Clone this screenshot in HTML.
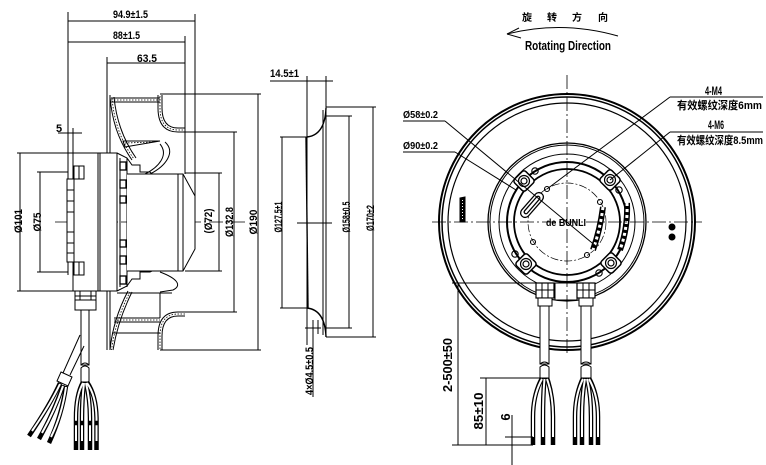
<!DOCTYPE html>
<html><head><meta charset="utf-8">
<style>
html,body{margin:0;padding:0;background:#fff;}
svg{display:block;}
text{font-family:"Liberation Sans","Noto Sans CJK SC",sans-serif;font-weight:bold;fill:#000;stroke:none;}
</style></head><body>
<svg width="766" height="465" viewBox="0 0 766 465" xmlns="http://www.w3.org/2000/svg">
<rect width="766" height="465" fill="#fff"/>
<g fill="none" stroke="#000" stroke-width="1">

<!-- ============ LEFT SIDE VIEW ============ -->
<line x1="68" y1="12" x2="68" y2="275"/>
<line x1="195" y1="14" x2="195" y2="198"/>
<line x1="68" y1="21" x2="195" y2="21"/>
<line x1="68" y1="42" x2="185" y2="42"/>
<line x1="185" y1="36" x2="185" y2="174"/>
<line x1="107" y1="63" x2="185" y2="63"/>
<line x1="107" y1="57" x2="107" y2="95"/>
<line x1="58" y1="133" x2="82" y2="133"/>
<line x1="73" y1="128" x2="73" y2="153"/>
<line x1="20" y1="153" x2="20" y2="291"/>
<line x1="17" y1="153" x2="73" y2="153"/>
<line x1="17" y1="291" x2="73" y2="291"/>
<line x1="40" y1="172" x2="40" y2="272"/>
<line x1="37" y1="172" x2="68" y2="172"/>
<line x1="37" y1="272" x2="68" y2="272"/>
<line x1="219" y1="173" x2="219" y2="271"/>
<line x1="185" y1="173" x2="222" y2="173"/>
<line x1="185" y1="271" x2="222" y2="271"/>
<line x1="234" y1="132" x2="234" y2="312"/>
<line x1="185" y1="132" x2="237" y2="132"/>
<line x1="185" y1="312" x2="237" y2="312"/>
<line x1="258" y1="94" x2="258" y2="350"/>
<line x1="160" y1="94" x2="261" y2="94"/>
<line x1="160" y1="350" x2="261" y2="350"/>
<line x1="55" y1="222" x2="245" y2="222" stroke-width="0.7" stroke-dasharray="14 3 2 3"/>

<rect x="73" y="153" width="44" height="138" fill="#fff"/>
<line x1="98" y1="153" x2="98" y2="291"/>
<line x1="100" y1="153" x2="100" y2="291"/>
<rect x="67" y="179" width="7" height="83" fill="#fff"/>
<line x1="67" y1="190" x2="74" y2="190"/><line x1="67" y1="201" x2="74" y2="201"/>
<line x1="67" y1="212" x2="74" y2="212"/><line x1="67" y1="232" x2="74" y2="232"/>
<line x1="67" y1="243" x2="74" y2="243"/><line x1="67" y1="253" x2="74" y2="253"/>
<rect x="74" y="166" width="10" height="13" fill="#fff"/>
<line x1="79" y1="166" x2="79" y2="179"/>
<rect x="74" y="262" width="10" height="13" fill="#fff"/>
<line x1="79" y1="262" x2="79" y2="275"/>
<line x1="120" y1="158" x2="120" y2="287"/>
<line x1="127" y1="158" x2="127" y2="287"/>
<rect x="120" y="162" width="6" height="8" stroke-width="1.3"/>
<rect x="120" y="180" width="6" height="8" stroke-width="1.3"/>
<rect x="120" y="196" width="6" height="7" stroke-width="1.3"/>
<rect x="120" y="240" width="6" height="7" stroke-width="1.3"/>
<rect x="120" y="256" width="6" height="8" stroke-width="1.3"/>
<rect x="120" y="276" width="6" height="8" stroke-width="1.3"/>
<path d="M127,174 H183 L195,196 V249 L183,271 H127" fill="#fff"/>
<line x1="178" y1="174" x2="178" y2="271"/>
<line x1="183" y1="174" x2="183" y2="271"/>
<path d="M117,153 L127,158 L132,165 L140,165 L140,172 L150,172 L152,174"/>
<path d="M117,291 L127,286 L132,279 L140,279 L140,272 L150,272 L152,271"/>

<line x1="107" y1="95" x2="107" y2="153"/>
<line x1="110" y1="95" x2="110" y2="153"/>
<path d="M110,97 C112,120 118,140 132,160"/>
<path d="M114,97 C116,118 122,138 136,158"/>
<path d="M112,98 C114,120 120,140 134,159" stroke-dasharray="1.5 1.5" stroke-width="0.8"/>
<line x1="111" y1="98" x2="160" y2="98"/>
<line x1="111" y1="102" x2="160" y2="102"/>
<line x1="111" y1="100" x2="160" y2="100" stroke-dasharray="1.5 1.5" stroke-width="0.8"/>
<path d="M158,95 V108 Q158,132 178,132 H185"/>
<path d="M162,95 V108 Q162,128 178,128 H185"/>
<path d="M160,96 V108 Q160,130 178,130 H185" stroke-dasharray="1.5 1.5" stroke-width="0.8"/>
<path d="M123,141 L160,141 L125,147 Z"/>
<line x1="125" y1="143" x2="155" y2="142" stroke-dasharray="1.5 1.5" stroke-width="0.8"/>
<path d="M165,142 C176,152 166,166 150,174"/>
<path d="M160,144 C169,155 159,167 145,174"/>

<line x1="107" y1="291" x2="107" y2="350"/>
<line x1="110" y1="291" x2="110" y2="350"/>
<path d="M128,291 C118,310 112,330 110,350"/>
<path d="M132,292 C122,312 116,332 113,350"/>
<path d="M130,292 C120,311 114,331 111.5,350" stroke-dasharray="1.5 1.5" stroke-width="0.8"/>
<line x1="114" y1="318" x2="160" y2="318"/>
<line x1="114" y1="322" x2="160" y2="322"/>
<line x1="114" y1="320" x2="160" y2="320" stroke-dasharray="1.5 1.5" stroke-width="0.8"/>
<line x1="112" y1="333" x2="160" y2="333"/>
<path d="M158,350 V336 Q158,312 178,312 H185"/>
<path d="M162,350 V336 Q162,316 178,316 H185"/>
<path d="M160,349 V336 Q160,314 178,314 H185" stroke-dasharray="1.5 1.5" stroke-width="0.8"/>
<path d="M160,272 C176,278 183,285 173,290 L160,292"/>
<line x1="117" y1="293" x2="172" y2="293"/>
<line x1="160" y1="293" x2="160" y2="318"/>

<rect x="75" y="291" width="21" height="19" fill="#fff"/>
<line x1="75" y1="296" x2="96" y2="296"/><line x1="75" y1="300" x2="96" y2="300"/>
<line x1="80" y1="291" x2="80" y2="300"/><line x1="91" y1="291" x2="91" y2="300"/>
<rect x="81" y="310" width="8" height="55" fill="#fff"/>
<path d="M81,368 q4,-4 8,0 V382 H81 Z" fill="#fff"/>
<path d="M81,365 q4,-4 8,0"/>
<g stroke-width="4.5" stroke-linecap="butt">
<path d="M83,382 Q76,395 76,418 V450"/>
<path d="M84,382 Q82,400 82,418 V450"/>
<path d="M86,382 Q90,400 90,418 V450"/>
<path d="M87,382 Q96,395 96.5,418 V450"/>
</g>
<g stroke="#fff" stroke-width="2">
<path d="M83,383 Q76,395 76,418 V441"/>
<path d="M84,383 Q82,400 82,418 V441"/>
<path d="M86,383 Q90,400 90,418 V441"/>
<path d="M87,383 Q96,395 96.5,418 V441"/>
</g>
<g stroke-width="4.5"><line x1="74" y1="423" x2="78" y2="423"/><line x1="80" y1="423" x2="84" y2="423"/><line x1="88" y1="423" x2="92" y2="423"/><line x1="94.5" y1="423" x2="98.5" y2="423"/></g>
<path d="M80,335 L63,373"/>
<path d="M84,346 L70,375"/>
<path d="M61,372 L72,377 L68,386 L57,381 Z" fill="#fff"/>
<g stroke-width="4.5">
<path d="M60,383 Q50,405 29,436"/>
<path d="M63,385 Q55,410 39,439"/>
<path d="M66,386 Q62,415 49,443"/>
</g>
<g stroke="#fff" stroke-width="2">
<path d="M60,384 Q50,405 32,431"/>
<path d="M63,386 Q55,410 42,433"/>
<path d="M66,387 Q62,415 51,437"/>
</g>

<!-- ============ MIDDLE PROFILE ============ -->
<line x1="270" y1="81" x2="333" y2="81"/>
<line x1="307" y1="76" x2="307" y2="345"/>
<line x1="326" y1="76" x2="326" y2="337"/>
<line x1="323" y1="110" x2="323" y2="335"/>
<path d="M307,137 Q325,135 326,108" stroke-width="1.4"/>
<path d="M307,308 Q325,310 326,337" stroke-width="1.4"/>
<line x1="306" y1="137" x2="308" y2="308" stroke-width="1.4"/>
<line x1="326" y1="337" x2="331" y2="337"/>
<line x1="282" y1="137" x2="282" y2="308"/>
<line x1="280" y1="137" x2="307" y2="137"/>
<line x1="280" y1="308" x2="307" y2="308"/>
<line x1="349" y1="116" x2="349" y2="328"/>
<line x1="326" y1="116" x2="352" y2="116"/>
<line x1="326" y1="328" x2="352" y2="328"/>
<line x1="373" y1="107" x2="373" y2="337"/>
<line x1="326" y1="107" x2="376" y2="107"/>
<line x1="326" y1="337" x2="376" y2="337"/>
<line x1="297" y1="223" x2="332" y2="223"/>
<line x1="313" y1="320" x2="313" y2="397"/>
<line x1="318" y1="320" x2="318" y2="334"/>
<line x1="305" y1="328" x2="321" y2="328"/>

<!-- ============ FRONT VIEW ============ -->
<circle cx="567" cy="222" r="128" stroke-width="2"/>
<circle cx="567" cy="222" r="125" stroke-width="1.5"/>
<circle cx="567" cy="222" r="119" stroke-width="1.2"/>
<circle cx="567" cy="222" r="79" stroke-width="1.3"/>
<circle cx="567" cy="222" r="77"/>
<circle cx="567" cy="222" r="68"/>
<circle cx="567" cy="222" r="60" stroke-width="2"/>
<circle cx="567" cy="222" r="53" stroke-width="1.8"/>
<circle cx="567" cy="222" r="39" stroke-width="0.7" stroke-dasharray="8 2 2 2"/>
<g fill="#fff" stroke-width="1.5">
<rect x="-8" y="-8" width="16" height="16" rx="3" transform="translate(524,181) rotate(45)"/>
<rect x="-8" y="-8" width="16" height="16" rx="3" transform="translate(610,180) rotate(45)"/>
<rect x="-8" y="-8" width="16" height="16" rx="3" transform="translate(526,264) rotate(45)"/>
<rect x="-8" y="-8" width="16" height="16" rx="3" transform="translate(611,263) rotate(45)"/>
</g>
<g stroke-width="1.2">
<circle cx="524" cy="181" r="5.5"/><circle cx="524" cy="181" r="3"/>
<circle cx="610" cy="180" r="5.5"/><circle cx="610" cy="180" r="3"/>
<circle cx="526" cy="264" r="5.5"/><circle cx="526" cy="264" r="3"/>
<circle cx="611" cy="263" r="5.5"/><circle cx="611" cy="263" r="3"/>
</g>
<g stroke-width="1.1">
<circle cx="535" cy="171" r="3.2"/><circle cx="619" cy="190" r="3.2"/>
<circle cx="515" cy="254" r="3.2"/><circle cx="599" cy="273" r="3.2"/>
<circle cx="547" cy="189" r="2.5"/><circle cx="600" cy="202" r="2.5"/>
<circle cx="533" cy="242" r="2.5"/><circle cx="587" cy="255" r="2.5"/>
</g>
<g transform="translate(532,205) rotate(-49)" stroke-width="1.3">
<rect x="-15" y="-4.5" width="30" height="9" rx="4.5" fill="#fff"/>
<rect x="-11" y="-1.8" width="22" height="3.6" rx="1.8"/>
</g>
<path d="M603,207 Q600,230 593,250" stroke-width="6"/>
<path d="M603,207 Q600,230 593,250" stroke="#fff" stroke-width="3" stroke-dasharray="3 3"/>
<path d="M627,203 Q628,228 620,250" stroke-width="6"/>
<path d="M627,203 Q628,228 620,250" stroke="#fff" stroke-width="3" stroke-dasharray="3 3"/>
<path d="M460,198 L465,197 L465,222 L460,222 Z" fill="#000" stroke-width="1"/>
<line x1="462.5" y1="200" x2="462.5" y2="220" stroke="#fff" stroke-width="1" stroke-dasharray="1 2"/>
<circle cx="672" cy="227" r="3.5" fill="#000" stroke="none"/>
<circle cx="672" cy="237" r="3.5" fill="#000" stroke="none"/>

<rect x="555" y="283" width="22" height="17" fill="#fff"/>
<rect x="536" y="283" width="18" height="15" fill="#fff" stroke-width="1.2"/>
<line x1="542" y1="283" x2="542" y2="298"/><line x1="548" y1="283" x2="548" y2="298"/>
<line x1="536" y1="290" x2="554" y2="290"/>
<rect x="538" y="298" width="14" height="8" fill="#fff"/>
<rect x="577" y="283" width="18" height="15" fill="#fff" stroke-width="1.2"/>
<line x1="583" y1="283" x2="583" y2="298"/><line x1="589" y1="283" x2="589" y2="298"/>
<line x1="577" y1="290" x2="595" y2="290"/>
<rect x="579" y="298" width="14" height="8" fill="#fff"/>
<rect x="540" y="306" width="9" height="58" fill="#fff"/>
<rect x="581" y="306" width="10" height="58" fill="#fff"/>
<path d="M540,367 q4.5,-4 9,0 V378 H540 Z" fill="#fff"/>
<path d="M540,364 q4.5,-4 9,0"/>
<path d="M581,367 q5,-4 10,0 V378 H581 Z" fill="#fff"/>
<path d="M581,364 q5,-4 10,0"/>
<g stroke-width="4.5">
<path d="M542,378 Q533,395 533,417 V445"/>
<path d="M544.5,378 Q543,395 543,417 V445"/>
<path d="M547,378 Q553,395 553,417 V445"/>
<path d="M583,378 Q575,395 575,417 V445"/>
<path d="M585,378 Q582,395 582,417 V445"/>
<path d="M587,378 Q591,395 591,417 V445"/>
<path d="M589,378 Q598,395 598,417 V445"/>
</g>
<g stroke="#fff" stroke-width="2">
<path d="M542,379 Q533,395 533,417 V437"/>
<path d="M544.5,379 Q543,395 543,417 V437"/>
<path d="M547,379 Q553,395 553,417 V437"/>
<path d="M583,379 Q575,395 575,417 V437"/>
<path d="M585,379 Q582,395 582,417 V437"/>
<path d="M587,379 Q591,395 591,417 V437"/>
<path d="M589,379 Q598,395 598,417 V437"/>
</g>

<line x1="567" y1="75" x2="567" y2="355" stroke-width="0.8" stroke-dasharray="14 3 2 3"/>
<line x1="432" y1="222" x2="702" y2="222" stroke-width="0.8" stroke-dasharray="14 3 2 3"/>

<line x1="403" y1="121" x2="445" y2="121"/>
<line x1="445" y1="121" x2="597" y2="247"/>
<line x1="403" y1="152" x2="455" y2="152"/>
<line x1="455" y1="152" x2="516" y2="190"/>
<line x1="670" y1="97" x2="763" y2="97"/>
<line x1="670" y1="97" x2="547" y2="189"/>
<line x1="670" y1="132" x2="763" y2="132"/>
<line x1="670" y1="132" x2="610" y2="180"/>

<line x1="452" y1="283" x2="536" y2="283"/>
<line x1="458" y1="283" x2="458" y2="445"/>
<line x1="452" y1="445" x2="533" y2="445"/>
<line x1="486" y1="378" x2="486" y2="445"/>
<line x1="480" y1="378" x2="540" y2="378"/>
<line x1="512" y1="415" x2="512" y2="465"/>
<line x1="505" y1="437" x2="533" y2="437"/>

<path d="M507,34 Q562,20 618,36"/>
<line x1="507" y1="34" x2="521" y2="38"/>
<line x1="507" y1="34" x2="519" y2="28"/>
</g>

<!-- ============ TEXT ============ -->
<g font-size="11">
<text x="113" y="18" textLength="35" lengthAdjust="spacingAndGlyphs">94.9±1.5</text>
<text x="113" y="39" textLength="27" lengthAdjust="spacingAndGlyphs">88±1.5</text>
<text x="137" y="62" textLength="20" lengthAdjust="spacingAndGlyphs">63.5</text>
<text x="56" y="132">5</text>
<text x="270" y="77" textLength="29" lengthAdjust="spacingAndGlyphs">14.5±1</text>
</g>
<g font-size="11" text-anchor="middle">
<text transform="translate(22,221) rotate(-90)" textLength="24" lengthAdjust="spacingAndGlyphs">Ø101</text>
<text transform="translate(41,222) rotate(-90)" textLength="19" lengthAdjust="spacingAndGlyphs">Ø75</text>
<text transform="translate(212,221) rotate(-90)" textLength="25" lengthAdjust="spacingAndGlyphs">(Ø72)</text>
<text transform="translate(233,222) rotate(-90)" textLength="30" lengthAdjust="spacingAndGlyphs">Ø132.8</text>
<text transform="translate(257,222) rotate(-90)" textLength="25" lengthAdjust="spacingAndGlyphs">Ø190</text>
<text transform="translate(282,217) rotate(-90)" textLength="31" lengthAdjust="spacingAndGlyphs">Ø127.5±1</text>
<text transform="translate(350,217) rotate(-90)" textLength="31" lengthAdjust="spacingAndGlyphs">Ø158±0.5</text>
<text transform="translate(374,218) rotate(-90)" textLength="26" lengthAdjust="spacingAndGlyphs">Ø170±2</text>
<text transform="translate(313,371) rotate(-90)" textLength="48" lengthAdjust="spacingAndGlyphs">4×Ø4.5±0.5</text>
</g>
<g font-size="13" text-anchor="middle">
<text transform="translate(452,365) rotate(-90)" textLength="54" lengthAdjust="spacingAndGlyphs">2-500±50</text>
<text transform="translate(483,411) rotate(-90)" textLength="37" lengthAdjust="spacingAndGlyphs">85±10</text>
<text transform="translate(510,417) rotate(-90)">6</text>
</g>
<g font-size="10.5">
<text x="403" y="118" textLength="35" lengthAdjust="spacingAndGlyphs">Ø58±0.2</text>
<text x="403" y="149" textLength="35" lengthAdjust="spacingAndGlyphs">Ø90±0.2</text>
</g>
<g font-size="11.5">
<text x="705" y="95" textLength="17" lengthAdjust="spacingAndGlyphs">4-M4</text>
<text x="708" y="129" textLength="16" lengthAdjust="spacingAndGlyphs">4-M6</text>
</g>
<g font-size="11">
<text x="677" y="109" textLength="85" lengthAdjust="spacingAndGlyphs">有效螺纹深度6mm</text>
<text x="677" y="144" textLength="86" lengthAdjust="spacingAndGlyphs">有效螺纹深度8.5mm</text>
</g>
<text x="566" y="226" font-size="10" text-anchor="middle" textLength="40" lengthAdjust="spacingAndGlyphs">de BUNLI</text>
<g font-size="10">
<text x="522" y="21">旋</text>
<text x="547" y="21">转</text>
<text x="572" y="21">方</text>
<text x="598" y="21">向</text>
</g>
<text x="525" y="50" font-size="12.5" textLength="86" lengthAdjust="spacingAndGlyphs">Rotating Direction</text>
</svg>
</body></html>
